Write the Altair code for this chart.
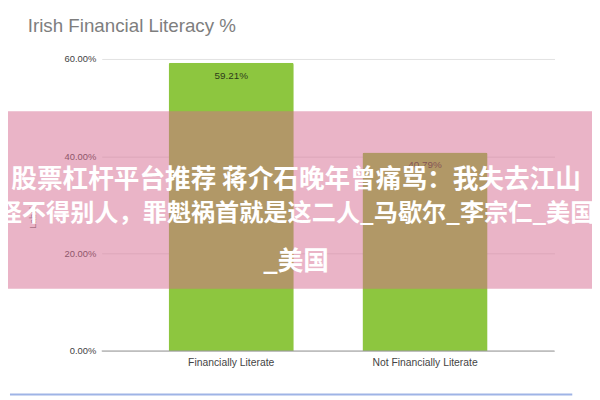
import altair as alt
import pandas as pd

categories = ["Financially Literate", "Not Financially Literate"]
values = [0.5921, 0.4079]
value_labels = ["59.21%", "40.79%"]
y_ticks = [0.0, 0.2, 0.4, 0.6]
title_text = "Irish Financial Literacy %"
y_title = "Label"
overlay_lines = [
    "股票杠杆平台推荐 蒋介石晚年曾痛骂：我失去江山",
    "怪不得别人，罪魁祸首就是这二人_马歇尔_李宗仁_美国",
    "_美国",
]
overlay_y = [123, 157, 206]
overlay_size = [26, 24.5, 26]

df = pd.DataFrame({"cat": categories, "val": values, "lab": value_labels})

x_enc = alt.X("cat:N", sort=categories,
              scale=alt.Scale(paddingInner=0.354, paddingOuter=0.345),
              axis=alt.Axis(title=None, labelAngle=0, domain=False, ticks=False,
                            labelFontSize=10.5, labelColor="#444444", labelPadding=7,
                            labelFont="Liberation Sans"))
y_scale = alt.Scale(domain=[0, 0.6], nice=False)

bars = alt.Chart(df).mark_bar(color="#8dc63f", cornerRadiusTopLeft=2,
                              cornerRadiusTopRight=2).encode(
    x=x_enc,
    y=alt.Y("val:Q", scale=y_scale,
            axis=alt.Axis(title=None, values=y_ticks, format=".2%", domain=False,
                          ticks=False, labelFontSize=9.5, labelColor="#444444",
                          labelPadding=6, gridColor="#e3e3e3",
                          labelFont="Liberation Sans")),
)

zero = alt.Chart(pd.DataFrame({"z": [0.0]})).mark_rule(color="#9a9a9a", strokeWidth=1.2).encode(
    y=alt.Y("z:Q", scale=y_scale)
)

labels = alt.Chart(df).mark_text(baseline="top", dy=8, fontSize=10,
                                 color="#2e3a1a", font="Liberation Sans").encode(
    x=alt.X("cat:N", sort=categories),
    y=alt.Y("val:Q", scale=y_scale),
    text="lab:N",
)

ytitle = alt.Chart(pd.DataFrame({"t": [y_title]})).mark_text(
    angle=270, fontSize=9, color="#777777", font="Liberation Sans").encode(
    text="t:N", x=alt.value(-70), y=alt.value(161))

pink = alt.Chart(pd.DataFrame({"a": [1]})).mark_rect(color="#d66a90", opacity=0.5).encode(
    x=alt.value(-103), x2=alt.value(497), y=alt.value(53), y2=alt.value(233))

ov_layers = []
for i, line in enumerate(overlay_lines):
    ov_layers.append(
        alt.Chart(pd.DataFrame({"t": [line]})).mark_text(
            fontSize=overlay_size[i], fontWeight="bold", color="#ffffff", align="center",
            baseline="middle", font="Noto Sans CJK SC").encode(
            text="t:N", x=alt.value(197), y=alt.value(overlay_y[i]))
    )

title = alt.Chart(pd.DataFrame({"t": [title_text]})).mark_text(
    fontSize=19, color="#7e7e7e", align="left", baseline="alphabetic",
    font="Liberation Sans").encode(text="t:N", x=alt.value(-75), y=alt.value(-27))

blue = alt.Chart(pd.DataFrame({"a": [1]})).mark_rule(color="#9fb4e6", strokeWidth=2).encode(
    x=alt.value(-93), x2=alt.value(477), y=alt.value(340))

chart = alt.layer(bars, zero, labels, ytitle, pink, *ov_layers, title, blue).properties(
    width=459, height=296,
    padding={"left": 95, "top": 49, "right": 38, "bottom": 47},
    autosize=alt.AutoSizeParams(type="none"),
    background="#ffffff",
).configure_view(stroke=None)

chart.save("out.html", embed_options={"renderer": "svg", "actions": False})
